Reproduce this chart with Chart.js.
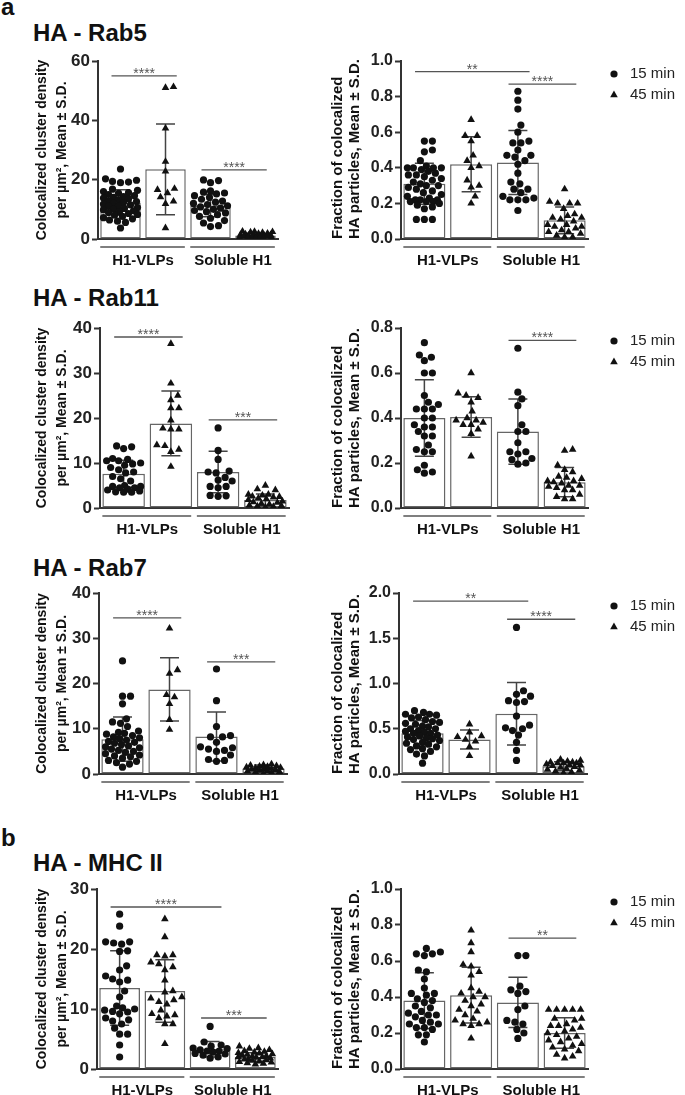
<!DOCTYPE html>
<html>
<head>
<meta charset="utf-8">
<script src="https://cdn.jsdelivr.net/npm/chart.js@4.4.1/dist/chart.umd.min.js"></script>
<style>
  body { margin: 0; background: #fff; width: 685px; height: 1095px; position: relative; overflow: hidden;
         font-family: "Liberation Sans", Arial, Helvetica, sans-serif; }
  canvas { position: absolute; }
  .lbl { position: absolute; font-weight: bold; color: #111; white-space: nowrap; font-size: 24px; line-height: 24px; }
</style>
</head>
<body>
<div class="lbl" style="left:1px;top:-5px">a</div>
<div class="lbl" style="left:33px;top:21px">HA - Rab5</div>
<div class="lbl" style="left:33px;top:286px">HA - Rab11</div>
<div class="lbl" style="left:33px;top:556px">HA - Rab7</div>
<div class="lbl" style="left:1px;top:826px">b</div>
<div class="lbl" style="left:33px;top:851px">HA - MHC II</div>
<script>
// groups on the x axis and the two time points
var groupNames = ['H1-VLPs', 'Soluble H1'];
var timeNames = ['15 min', '45 min'];
var densTitle = ['Colocalized cluster density', 'per \u00b5m\u00b2, Mean \u00b1 S.D.'];
var fracTitle = ['Fraction of colocalized', 'HA particles, Mean \u00b1 S.D.'];

// order of each panel: VLP 15 min, VLP 45 min, soluble 15 min, soluble 45 min
var rab5DensTicks = [0, 20, 40, 60];
var rab5DensMean = [12.3, 23.5, 11.3, 1.2];
var rab5DensSd = [4.3, 15.3, 3.8, 0.7];
var rab5DensPts = [
    [23.6, 20.3, 19.8, 19.4, 19.2, 19.0, 16.8, 16.4, 16.0, 15.6, 15.4, 15.0, 14.6, 14.3, 14.0, 13.8, 13.5, 13.2, 12.9, 12.6, 12.3, 12.0, 11.8, 11.5, 11.2, 11.0, 10.6, 10.3, 10.0, 9.8, 9.5, 9.2, 8.9, 8.6, 8.3, 8.0, 7.6, 7.2, 6.8, 6.4, 6.0, 5.6, 3.7],
    [51.0, 51.3, 37.3, 26.1, 22.8, 17.0, 16.6, 15.5, 14.1, 12.7, 11.9, 3.7],
    [19.9, 19.7, 19.0, 16.2, 15.8, 15.5, 15.2, 14.6, 14.0, 13.4, 12.8, 12.4, 12.0, 11.6, 11.2, 10.8, 10.4, 10.0, 9.6, 9.2, 8.8, 8.2, 7.6, 7.0, 6.2, 5.4, 4.5, 4.2],
    [2.6, 2.5, 2.4, 2.3, 2.1, 1.9, 1.8, 1.6, 1.5, 1.4, 1.3, 1.2, 1.1, 1.0, 0.9, 0.8, 0.8, 0.7, 0.6, 0.5, 0.5, 0.4, 0.3, 0.2]
];
var rab5DensSig = [[0, 1, 55, '****'], [2, 3, 23.3, '****']];

var rab5FracTicks = [0, 0.2, 0.4, 0.6, 0.8, 1.0];
var rab5FracMean = [0.31, 0.42, 0.43, 0.105];
var rab5FracSd = [0.115, 0.155, 0.18, 0.075];
var rab5FracPts = [
    [0.55, 0.55, 0.50, 0.49, 0.44, 0.41, 0.40, 0.40, 0.40, 0.40, 0.39, 0.38, 0.37, 0.36, 0.36, 0.35, 0.34, 0.33, 0.32, 0.31, 0.30, 0.30, 0.29, 0.28, 0.27, 0.26, 0.25, 0.24, 0.23, 0.22, 0.22, 0.22, 0.21, 0.21, 0.21, 0.20, 0.19, 0.18, 0.17, 0.11, 0.11, 0.11],
    [0.67, 0.58, 0.58, 0.55, 0.47, 0.44, 0.41, 0.40, 0.33, 0.30, 0.29, 0.24, 0.20],
    [0.83, 0.78, 0.73, 0.64, 0.60, 0.55, 0.54, 0.54, 0.50, 0.47, 0.47, 0.46, 0.44, 0.42, 0.37, 0.32, 0.31, 0.28, 0.28, 0.26, 0.24, 0.23, 0.22, 0.22, 0.22, 0.16],
    [0.28, 0.21, 0.20, 0.20, 0.20, 0.17, 0.14, 0.13, 0.12, 0.12, 0.11, 0.10, 0.08, 0.08, 0.07, 0.07, 0.06, 0.05, 0.04, 0.04, 0.03, 0.02, 0.01, 0.01]
];
var rab5FracSig = [[0, 2, 0.94, '**'], [2, 3, 0.87, '****']];

var rab11DensTicks = [0, 10, 20, 30, 40];
var rab11DensMean = [7.6, 18.8, 8.0, 1.8];
var rab11DensSd = [3.0, 7.2, 4.6, 1.3];
var rab11DensPts = [
    [13.8, 13.6, 13.2, 11.0, 10.8, 10.5, 10.5, 10.0, 9.8, 9.5, 9.0, 8.5, 8.0, 7.8, 7.0, 6.5, 6.0, 5.0, 4.8, 4.8, 4.5, 4.5, 4.2, 4.0, 3.8, 3.6, 3.5, 3.5],
    [36.5, 27.7, 25.0, 24.0, 22.2, 22.2, 19.5, 17.7, 17.5, 17.5, 14.0, 13.8, 13.0, 12.5, 9.2],
    [17.8, 12.8, 10.8, 8.2, 8.0, 7.8, 6.8, 6.2, 6.0, 4.8, 4.8, 4.5, 2.8, 2.7, 2.6],
    [5.0, 4.2, 4.0, 3.0, 3.0, 2.8, 2.6, 2.5, 2.4, 2.2, 2.0, 1.8, 1.5, 1.3, 1.2, 1.0, 0.8, 0.6, 0.5, 0.4, 0.3, 0.2]
];
var rab11DensSig = [[0, 1, 38, '****'], [2, 3, 19.6, '***']];

var rab11FracTicks = [0, 0.2, 0.4, 0.6, 0.8];
var rab11FracMean = [0.40, 0.405, 0.34, 0.115];
var rab11FracSd = [0.17, 0.09, 0.145, 0.065];
var rab11FracPts = [
    [0.735, 0.68, 0.67, 0.655, 0.60, 0.60, 0.50, 0.47, 0.46, 0.44, 0.44, 0.44, 0.40, 0.40, 0.37, 0.36, 0.36, 0.34, 0.32, 0.32, 0.28, 0.26, 0.25, 0.25, 0.19, 0.17, 0.16, 0.155],
    [0.60, 0.51, 0.50, 0.49, 0.47, 0.43, 0.40, 0.39, 0.39, 0.38, 0.37, 0.37, 0.35, 0.33, 0.23],
    [0.71, 0.515, 0.485, 0.455, 0.37, 0.34, 0.34, 0.29, 0.25, 0.25, 0.24, 0.22, 0.215, 0.20, 0.195],
    [0.26, 0.255, 0.19, 0.17, 0.16, 0.14, 0.135, 0.13, 0.12, 0.12, 0.115, 0.11, 0.10, 0.10, 0.095, 0.09, 0.08, 0.08, 0.06, 0.05, 0.04, 0.04]
];
var rab11FracSig = [[2, 3, 0.745, '****']];

var rab7DensTicks = [0, 10, 20, 30, 40];
var rab7DensMean = [7.7, 18.7, 8.3, 1.2];
var rab7DensSd = [4.9, 7.0, 5.4, 0.8];
var rab7DensPts = [
    [25.0, 17.2, 17.2, 15.5, 12.2, 11.5, 11.2, 10.5, 9.5, 9.2, 9.0, 8.8, 8.5, 8.2, 8.0, 7.8, 7.5, 7.2, 7.0, 6.8, 6.5, 6.2, 6.0, 5.8, 5.5, 5.2, 5.0, 4.8, 4.5, 4.2, 4.0, 3.8, 3.5, 3.0, 2.8, 2.5, 2.2, 1.5],
    [32.2, 23.0, 22.2, 17.5, 17.0, 15.5, 12.0, 9.8],
    [23.2, 16.2, 10.5, 8.5, 8.2, 8.2, 7.0, 6.0, 5.8, 5.5, 5.2, 5.0, 4.2, 3.2, 3.0, 2.8],
    [2.2, 2.0, 1.9, 1.8, 1.7, 1.6, 1.5, 1.4, 1.3, 1.2, 1.1, 1.0, 0.9, 0.8, 0.7, 0.6, 0.5, 0.4, 0.3, 0.1]
];
var rab7DensSig = [[0, 1, 34.5, '****'], [2, 3, 24.8, '***']];

var rab7FracTicks = [0, 0.5, 1.0, 1.5, 2.0];
var rab7FracMean = [0.45, 0.38, 0.665, 0.085];
var rab7FracSd = [0.14, 0.105, 0.345, 0.05];
var rab7FracPts = [
    [0.70, 0.68, 0.66, 0.66, 0.65, 0.63, 0.62, 0.60, 0.58, 0.57, 0.56, 0.55, 0.53, 0.52, 0.50, 0.50, 0.48, 0.47, 0.46, 0.45, 0.45, 0.43, 0.42, 0.41, 0.40, 0.39, 0.38, 0.37, 0.35, 0.34, 0.33, 0.31, 0.30, 0.28, 0.27, 0.25, 0.22, 0.20, 0.12],
    [0.55, 0.46, 0.42, 0.41, 0.38, 0.36, 0.30, 0.20],
    [1.62, 0.92, 0.88, 0.86, 0.81, 0.80, 0.79, 0.64, 0.54, 0.51, 0.50, 0.48, 0.43, 0.35, 0.26, 0.15],
    [0.16, 0.15, 0.14, 0.13, 0.13, 0.12, 0.12, 0.12, 0.11, 0.10, 0.10, 0.09, 0.08, 0.07, 0.06, 0.05, 0.04, 0.03, 0.02, 0.01]
];
var rab7FracSig = [[0, 2, 1.91, '**'], [2, 3, 1.71, '****']];

var mhcDensTicks = [0, 10, 20, 30];
var mhcDensMean = [13.5, 13.0, 3.3, 2.0];
var mhcDensSd = [6.2, 5.2, 1.3, 0.7];
var mhcDensPts = [
    [25.8, 23.8, 21.2, 21.2, 21.0, 20.8, 19.7, 19.6, 17.2, 16.5, 15.5, 15.0, 14.8, 14.5, 13.0, 12.0, 10.5, 10.2, 10.0, 9.8, 9.6, 9.5, 9.2, 8.5, 8.2, 8.0, 7.5, 6.8, 5.8, 5.8, 4.0, 2.0],
    [25.0, 22.0, 19.0, 19.0, 18.8, 17.8, 17.5, 17.0, 16.5, 14.8, 13.0, 12.8, 12.0, 11.8, 11.5, 11.2, 10.8, 9.8, 9.2, 9.0, 8.8, 8.5, 7.5, 7.5, 4.2],
    [7.1, 4.5, 4.0, 3.8, 3.5, 3.4, 3.2, 3.0, 3.0, 2.8, 2.6, 2.5, 2.3, 2.0, 1.8],
    [3.8, 3.5, 3.4, 3.2, 3.0, 2.9, 2.8, 2.7, 2.6, 2.5, 2.4, 2.3, 2.2, 2.1, 2.0, 2.0, 1.9, 1.8, 1.7, 1.6, 1.5, 1.4, 1.3, 1.2, 1.1, 1.0, 0.9, 0.8]
];
var mhcDensSig = [[0, 2, 27, '****'], [2, 3, 8.5, '***']];

var mhcFracTicks = [0, 0.2, 0.4, 0.6, 0.8, 1.0];
var mhcFracMean = [0.38, 0.41, 0.37, 0.20];
var mhcFracSd = [0.155, 0.155, 0.14, 0.085];
var mhcFracPts = [
    [0.67, 0.65, 0.64, 0.64, 0.63, 0.55, 0.54, 0.50, 0.45, 0.42, 0.42, 0.41, 0.39, 0.38, 0.37, 0.35, 0.34, 0.32, 0.31, 0.30, 0.30, 0.29, 0.27, 0.26, 0.25, 0.25, 0.23, 0.23, 0.22, 0.19, 0.19, 0.15],
    [0.77, 0.70, 0.65, 0.58, 0.57, 0.54, 0.52, 0.45, 0.43, 0.42, 0.40, 0.40, 0.38, 0.36, 0.35, 0.33, 0.32, 0.30, 0.28, 0.27, 0.26, 0.25, 0.25, 0.24, 0.17],
    [0.63, 0.63, 0.46, 0.44, 0.43, 0.42, 0.35, 0.33, 0.27, 0.26, 0.25, 0.22, 0.20, 0.17],
    [0.33, 0.33, 0.33, 0.33, 0.33, 0.28, 0.28, 0.27, 0.25, 0.24, 0.24, 0.23, 0.22, 0.21, 0.20, 0.19, 0.18, 0.17, 0.16, 0.15, 0.14, 0.13, 0.12, 0.11, 0.10, 0.08, 0.07, 0.06]
];
var mhcFracSig = [[2, 3, 0.727, '**']];

var FONT = '"Liberation Sans", Arial, Helvetica, sans-serif';
Chart.defaults.font.family = FONT;
Chart.defaults.animation = false;

// spread points of one column sideways so they don't sit on top of each other
function swarm(values, centre, pxPerY, pxPerX, diam, maxOff) {
    var placed = [];
    var out = new Array(values.length);
    var order = values.map(function (v, i) { return i; }).sort(function (a, b) { return values[a] - values[b]; });
    order.forEach(function (i) {
        var py = values[i] * pxPerY;
        var best = 0, bestScore = -1;
        for (var k = 0; k <= 2 * maxOff; k++) {
            var off = (k % 2 ? 1 : -1) * Math.ceil(k / 2);
            var minD = Infinity;
            placed.forEach(function (p) {
                var d = Math.hypot(p[0] - off, p[1] - py);
                if (d < minD) minD = d;
            });
            if (minD >= diam) { best = off; break; }
            if (minD > bestScore) { bestScore = minD; best = off; }
        }
        placed.push([best, py]);
        out[i] = { x: centre + best / pxPerX, y: values[i] };
    });
    return out;
}

function drawPanel(area, right, yTitle, ticks, means, sds, pts, sig) {
    var L = area[0], T = area[1], R = area[2], B = area[3];
    var cl = right ? 325 : 0, cw = right ? 360 : 300;
    var ct = T - 18, ch = B + 36 - ct;
    var cv = document.createElement('canvas');
    cv.width = cw;
    cv.height = ch;
    cv.style.left = cl + 'px';
    cv.style.top = ct + 'px';
    document.body.appendChild(cv);

    var yMax = ticks[ticks.length - 1];
    var dec = Number.isInteger(ticks[1]) ? 0 : 1;
    var pxY = (B - T) / yMax, pxX = (R - L) / 4;
    var shapes = ['circle', 'triangle', 'circle', 'triangle'];

    var datasets = pts.map(function (vals, i) {
        return {
            type: 'scatter',
            data: swarm(vals, i, pxY, pxX, i % 2 ? 8 : 7.4, 17),
            pointStyle: shapes[i],
            pointRadius: i % 2 ? 4.4 : 3.6,
            pointBackgroundColor: '#111',
            pointBorderWidth: 0,
            order: 1
        };
    });
    datasets.push({
        type: 'bar',
        data: means.map(function (m, i) { return { x: i, y: m }; }),
        backgroundColor: '#fff',
        borderColor: '#666',
        borderWidth: 1.5,
        borderSkipped: false,
        barPercentage: 0.9,
        categoryPercentage: 1,
        order: 3
    });

    var extras = {
        id: 'extras',
        afterDatasetDraw: function (chart, args) {
            if (args.meta.type !== 'bar') return;
            var ctx = chart.ctx, x = chart.scales.x, y = chart.scales.y;
            ctx.save();
            ctx.strokeStyle = '#444';
            ctx.lineWidth = 1.5;
            means.forEach(function (m, i) {
                var px = x.getPixelForValue(i);
                var hi = y.getPixelForValue(m + sds[i]);
                var lo = y.getPixelForValue(Math.max(m - sds[i], 0));
                ctx.beginPath();
                ctx.moveTo(px, hi); ctx.lineTo(px, lo);
                ctx.moveTo(px - 9.5, hi); ctx.lineTo(px + 9.5, hi);
                ctx.moveTo(px - 9.5, lo); ctx.lineTo(px + 9.5, lo);
                ctx.stroke();
            });
            ctx.restore();
        },
        afterDraw: function (chart) {
            var ctx = chart.ctx, x = chart.scales.x, y = chart.scales.y, a = chart.chartArea;
            ctx.save();
            // significance bars
            ctx.strokeStyle = '#555';
            ctx.lineWidth = 1.3;
            ctx.fillStyle = '#555';
            ctx.font = '14px ' + FONT;
            ctx.textAlign = 'center';
            ctx.textBaseline = 'alphabetic';
            sig.forEach(function (s) {
                var x1 = x.getPixelForValue(s[0] - 0.2), x2 = x.getPixelForValue(s[1] + 0.25);
                var py = y.getPixelForValue(s[2]);
                ctx.beginPath(); ctx.moveTo(x1, py); ctx.lineTo(x2, py); ctx.stroke();
                ctx.fillText(s[3], (x1 + x2) / 2, py + 2);
            });
            // group brackets under the axis
            ctx.strokeStyle = '#555';
            ctx.lineWidth = 1.5;
            ctx.fillStyle = '#111';
            ctx.font = 'bold 15px ' + FONT;
            groupNames.forEach(function (g, i) {
                var x1 = x.getPixelForValue(2 * i - 0.45), x2 = x.getPixelForValue(2 * i + 1.43);
                ctx.beginPath(); ctx.moveTo(x1, a.bottom + 8); ctx.lineTo(x2, a.bottom + 8); ctx.stroke();
                ctx.fillText(g, x.getPixelForValue(2 * i + 0.5), a.bottom + 26);
            });
            // legend
            if (right) {
                var lx = 614 - cl;
                ctx.fillStyle = '#111';
                Chart.helpers.drawPoint(ctx, { pointStyle: 'circle', radius: 3.6, borderWidth: 0 }, lx, a.top + 13);
                Chart.helpers.drawPoint(ctx, { pointStyle: 'triangle', radius: 4.4, borderWidth: 0 }, lx, a.top + 34);
                ctx.fillStyle = '#222';
                ctx.font = '15px ' + FONT;
                ctx.textAlign = 'left';
                ctx.textBaseline = 'middle';
                ctx.fillText(timeNames[0], 630 - cl, a.top + 13);
                ctx.fillText(timeNames[1], 630 - cl, a.top + 34);
            }
            ctx.restore();
        }
    };

    new Chart(cv, {
        type: 'bar',
        data: { datasets: datasets },
        options: {
            responsive: false,
            layout: { autoPadding: false, padding: { left: 0, top: T - ct, right: cl + cw - R, bottom: ct + ch - B } },
            plugins: { legend: { display: false }, tooltip: { enabled: false } },
            scales: {
                x: {
                    type: 'linear', min: -0.5, max: 3.5, offset: false,
                    afterBuildTicks: function (s) { s.ticks = [0, 1, 2, 3].map(function (v) { return { value: v }; }); },
                    grid: { display: false },
                    ticks: { display: false },
                    border: { color: '#333', width: 2 },
                    afterFit: function (s) { s.height = 0; }
                },
                y: {
                    min: ticks[0], max: yMax,
                    afterBuildTicks: function (s) { s.ticks = ticks.map(function (v) { return { value: v }; }); },
                    ticks: {
                        color: '#222', padding: 2,
                        font: { size: right ? 16 : 17, weight: 'bold' },
                        callback: function (v) { return Number(v).toFixed(dec); }
                    },
                    grid: { display: true, drawOnChartArea: false, drawTicks: true, tickLength: 6, tickWidth: 2, tickColor: '#333' },
                    border: { color: '#333', width: 2 },
                    title: {
                        display: true, text: yTitle, color: '#111',
                        align: right ? 'start' : 'center',
                        font: { size: right ? 15 : 14, weight: 'bold', lineHeight: right ? 1.15 : 1.43 },
                        padding: { top: right ? 4 : 32, bottom: 0 }
                    },
                    afterFit: function (s) { s.width = L - cl; }
                }
            }
        },
        plugins: [extras]
    });
}

drawPanel([98, 61, 278, 239], false, densTitle, rab5DensTicks, rab5DensMean, rab5DensSd, rab5DensPts, rab5DensSig);
drawPanel([401, 61, 588, 239], true, fracTitle, rab5FracTicks, rab5FracMean, rab5FracSd, rab5FracPts, rab5FracSig);
drawPanel([100, 328, 289, 508], false, densTitle, rab11DensTicks, rab11DensMean, rab11DensSd, rab11DensPts, rab11DensSig);
drawPanel([401, 328, 588, 508], true, fracTitle, rab11FracTicks, rab11FracMean, rab11FracSd, rab11FracPts, rab11FracSig);
drawPanel([99, 593, 287, 774], false, densTitle, rab7DensTicks, rab7DensMean, rab7DensSd, rab7DensPts, rab7DensSig);
drawPanel([399, 593, 587, 774], true, fracTitle, rab7FracTicks, rab7FracMean, rab7FracSd, rab7FracPts, rab7FracSig);
drawPanel([97, 889, 278, 1069], false, densTitle, mhcDensTicks, mhcDensMean, mhcDensSd, mhcDensPts, mhcDensSig);
drawPanel([401, 889, 588, 1069], true, fracTitle, mhcFracTicks, mhcFracMean, mhcFracSd, mhcFracPts, mhcFracSig);
</script>
</body>
</html>
